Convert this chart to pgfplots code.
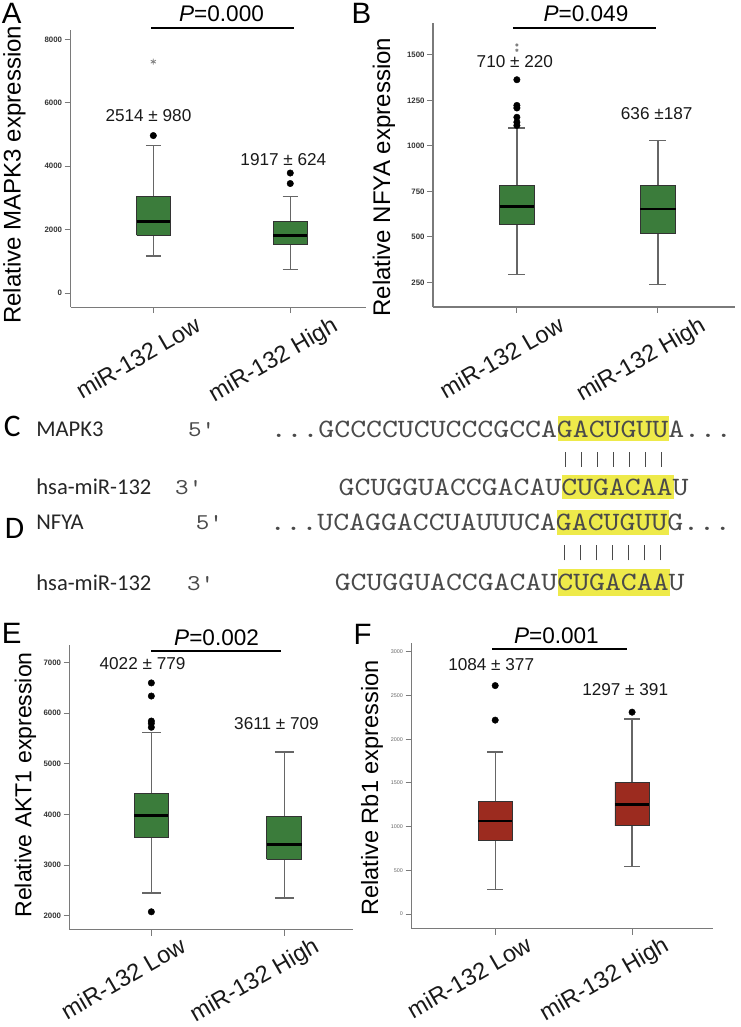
\documentclass[border=0pt]{standalone}
\usepackage{fontspec}
\setmainfont{Liberation Sans}
\setmonofont{lmmono10-regular.otf}[FakeStretch=1.143]
\newfontfamily\carlito{Carlito}
\usepackage{pgfplots}
\pgfplotsset{compat=1.18}
\definecolor{boxgreen}{HTML}{3B7C3B}
\definecolor{boxred}{HTML}{9C2B1F}
\definecolor{axgray}{HTML}{7A7A7A}
\definecolor{whgray}{HTML}{666666}
\definecolor{edgegray}{HTML}{333333}
\definecolor{seqgray}{HTML}{4A4A4A}
\definecolor{hl}{HTML}{EEEA4A}
\pgfplotsset{
  panel/.style={
    scale only axis,
    axis x line*=bottom, axis y line*=left,
    axis line style={draw=axgray, line width=1.3bp},
    tick style={draw=axgray, line width=1.1bp},
    tick align=outside,
    major tick length=6bp,
    xtick={1,2},
    xticklabels={miR-132 Low, miR-132 High},
    scaled y ticks=false,
    /pgf/number format/1000 sep={},
    /pgf/number format/assume math mode=true,
    yticklabel style={font=\fontsize{8}{8}\selectfont\bfseries, text=black!80, inner sep=2.5bp},
    clip=false,
  },
  lab/.style 2 args={xticklabel style={font=\fontsize{24}{24}\selectfont, text=black!90, inner sep=0pt, anchor=north east, xshift=#1, yshift=#2, rotate=30}},
  ylab/.style n args={3}{every axis y label/.style={at={(rel axis cs:0,#1)}, xshift=#2, rotate=90, anchor=center, font=\fontsize{#3}{#3}\selectfont}},
  whisk/.style={draw=whgray, line width=1.3bp, mark=none},
  boxg/.style={fill=boxgreen, draw=edgegray, line width=0.9bp, mark=none},
  boxr/.style={fill=boxred, draw=edgegray, line width=0.9bp, mark=none},
  med/.style={draw=black, line width=2.6bp, mark=none},
  outl/.style={only marks, mark=*, mark size=3.3bp, mark options={fill=black, draw=black}},
  star/.style={only marks, mark=asterisk, mark size=3bp, mark options={draw=gray, line width=0.8bp}},
}
\begin{document}
\begin{tikzpicture}
\begin{scope}[x=1bp, y=1bp]
\useasboundingbox (0,0) rectangle (750,1027);
\end{scope}

% ---------------- Panel A ----------------
\begin{axis}[panel, at={(70bp,715bp)}, anchor=south west, width=300bp, height=282bp,
  xmin=0.396, xmax=2.554, ymin=-444, ymax=8310, ytick={0,2000,4000,6000,8000},
  lab={41bp}{-2bp}, ylab={0.477}{-57bp}{24.5}, ylabel={Relative MAPK3 expression}]
% Low: lw 1170, q1 1822, med 2256, q3 3053, uw 4657
\addplot[whisk] coordinates {(1,1170) (1,4657)};
\addplot[whisk] coordinates {(0.945,1170) (1.055,1170)};
\addplot[whisk] coordinates {(0.945,4657) (1.055,4657)};
\addplot[boxg] coordinates {(0.8775,1822) (1.1225,1822) (1.1225,3053) (0.8775,3053) (0.8775,1822)};
\addplot[med] coordinates {(0.8775,2256) (1.1225,2256)};
% High: lw 756, q1 1532, med 1811, q3 2270, uw 3053
\addplot[whisk] coordinates {(2,756) (2,3053)};
\addplot[whisk] coordinates {(1.945,756) (2.055,756)};
\addplot[whisk] coordinates {(1.945,3053) (2.055,3053)};
\addplot[boxg] coordinates {(1.8775,1532) (2.1225,1532) (2.1225,2270) (1.8775,2270) (1.8775,1532)};
\addplot[med] coordinates {(1.8775,1811) (2.1225,1811)};
\addplot[outl] coordinates {(1,4968) (2,3788) (2,3457)};
\addplot[star] coordinates {(1,7297)};
\end{axis}

% ---------------- Panel B ----------------
\begin{axis}[panel, at={(438bp,715.3bp)}, anchor=south west, width=307bp, height=288.4bp,
  xmin=0.406, xmax=2.55, ymin=115, ymax=1675, ytick={250,500,750,1000,1250,1500},
  lab={41bp}{-2bp}, ylab={0.457}{-50bp}{24.5}, ylabel={Relative NFYA expression}]
\addplot[whisk] coordinates {(1,295) (1,1098)};
\addplot[whisk] coordinates {(0.94,295) (1.06,295)};
\addplot[whisk] coordinates {(0.94,1098) (1.06,1098)};
\addplot[boxg] coordinates {(0.8775,567) (1.1225,567) (1.1225,782) (0.8775,782) (0.8775,567)};
\addplot[med] coordinates {(0.8775,667) (1.1225,667)};
\addplot[whisk] coordinates {(2,239) (2,1029)};
\addplot[whisk] coordinates {(1.94,239) (2.06,239)};
\addplot[whisk] coordinates {(1.94,1029) (2.06,1029)};
\addplot[boxg] coordinates {(1.875,517) (2.125,517) (2.125,782) (1.875,782) (1.875,517)};
\addplot[med] coordinates {(1.875,654) (2.125,654)};
\addplot[outl] coordinates {(1,1363) (1,1222) (1,1208) (1,1157) (1,1130) (1,1112)};
\addplot[star, mark size=1.6bp] coordinates {(1,1554) (1,1525)};
\end{axis}

% ---------------- Panel E ----------------
\begin{axis}[panel, at={(69bp,83bp)}, anchor=south west, width=288bp, height=289bp,
  xmin=0.385, xmax=2.52, ymin=1722, ymax=7344, ytick={2000,3000,4000,5000,6000,7000},
  lab={28bp}{0bp}, ylab={0.509}{-45bp}{23.5}, ylabel={Relative AKT1 expression}]
\addplot[whisk] coordinates {(1,2447) (1,5612)};
\addplot[whisk] coordinates {(0.93,2447) (1.07,2447)};
\addplot[whisk] coordinates {(0.93,5612) (1.07,5612)};
\addplot[boxg] coordinates {(0.8725,3550) (1.1275,3550) (1.1275,4406) (0.8725,4406) (0.8725,3550)};
\addplot[med] coordinates {(0.8725,3984) (1.1275,3984)};
\addplot[whisk] coordinates {(2,2350) (2,5236)};
\addplot[whisk] coordinates {(1.93,2350) (2.07,2350)};
\addplot[whisk] coordinates {(1.93,5236) (2.07,5236)};
\addplot[boxg] coordinates {(1.8675,3115) (2.1325,3115) (2.1325,3958) (1.8675,3958) (1.8675,3115)};
\addplot[med] coordinates {(1.8675,3407) (2.1325,3407)};
\addplot[outl] coordinates {(1,6598) (1,6339) (1,5846) (1,5800) (1,5722) (1,2078)};
\end{axis}

% ---------------- Panel F ----------------
\begin{axis}[panel, at={(416bp,84bp)}, anchor=south west, width=306bp, height=290bp,
  xmin=0.388, xmax=2.59, ymin=-169, ymax=3098, ytick={0,500,1000,1500,2000,2500,3000},
  yticklabel style={font=\fontsize{5.5}{5.5}\selectfont\mdseries, text=black!60},
  lab={30bp}{0bp}, ylab={0.493}{-40bp}{24}, ylabel={Relative Rb1 expression}]
\addplot[whisk] coordinates {(1,285) (1,1854)};
\addplot[whisk] coordinates {(0.9425,285) (1.0575,285)};
\addplot[whisk] coordinates {(0.9425,1854) (1.0575,1854)};
\addplot[boxr] coordinates {(0.8775,837) (1.1225,837) (1.1225,1284) (0.8775,1284) (0.8775,837)};
\addplot[med] coordinates {(0.8775,1066) (1.1225,1066)};
\addplot[whisk] coordinates {(2,541) (2,2230)};
\addplot[whisk] coordinates {(1.9425,541) (2.0575,541)};
\addplot[whisk] coordinates {(1.9425,2230) (2.0575,2230)};
\addplot[boxr] coordinates {(1.875,1010) (2.125,1010) (2.125,1509) (1.875,1509) (1.875,1010)};
\addplot[med] coordinates {(1.875,1254) (2.125,1254)};
\addplot[outl] coordinates {(1,2613) (1,2218) (2,2309)};
\end{axis}

\begin{scope}[x=1bp, y=1bp]
% ---------------- panel letters, P values ----------------
\begin{scope}[every node/.style={inner sep=0pt, anchor=base west}]
\node[font=\fontsize{30}{30}\selectfont] at (0,1003) {A};
\node[font=\fontsize{30}{30}\selectfont] at (355,1003) {B};
\node[font=\fontsize{30}{30}\selectfont] at (0,374) {E};
\node[font=\fontsize{30}{30}\selectfont] at (357,373) {F};
\node[font=\fontsize{23}{23}\selectfont] at (180,1005) {\textit{P}=0.000};
\node[font=\fontsize{23}{23}\selectfont] at (550,1005) {\textit{P}=0.049};
\node[font=\fontsize{23}{23}\selectfont] at (175,372) {\textit{P}=0.002};
\node[font=\fontsize{23}{23}\selectfont] at (520,374) {\textit{P}=0.001};
\end{scope}
\draw[line width=2bp] (152,999) -- (297,999);
\draw[line width=2bp] (519,999) -- (664,999);
\draw[line width=2bp] (152,366) -- (284,366);
\draw[line width=2bp] (498,368) -- (635,368);

% ---------------- mean +- sd texts ----------------
\begin{scope}[every node/.style={inner sep=0pt, anchor=center, font=\fontsize{17.5}{17.5}\selectfont, text=black!90}]
\node at (149,910) {2514 ± 980};
\node at (286,865) {1917 ± 624};
\node at (521,964) {710 ± 220};
\node at (665,912) {636 ±187};
\node at (143,353) {4022 ± 779};
\node at (279,292) {3611 ± 709};
\node at (497,352) {1084 ± 377};
\node at (633,327) {1297 ± 391};
\end{scope}

% ---------------- Panels C and D ----------------
\fill[hl] (564.6,579) rectangle (678.0,605);
\fill[hl] (568.8,520) rectangle (682.2,545);
\fill[hl] (563.6,484) rectangle (677.0,509);
\fill[hl] (564.8,422) rectangle (678.2,449);
\foreach \i in {0,...,6} {
  \draw[seqgray, line width=1.4bp] (572.7+16.2*\i,553) -- (572.7+16.2*\i,568);
  \draw[seqgray, line width=1.4bp] (571.7+16.2*\i,458) -- (571.7+16.2*\i,474);
}
\begin{scope}[every node/.style={inner sep=0pt, anchor=base west}]
\node[font=\carlito\fontsize{32}{32}\selectfont] at (2,584) {C};
\node[font=\carlito\fontsize{32}{32}\selectfont] at (3,480) {D};
\node[font=\carlito\fontsize{23}{23}\selectfont, text=black!85] at (35,584) {MAPK3};
\node[font=\carlito\fontsize{23}{23}\selectfont, text=black!85] at (35,525) {hsa-miR-132};
\node[font=\carlito\fontsize{23}{23}\selectfont, text=black!85] at (35,489) {NFYA};
\node[font=\carlito\fontsize{23}{23}\selectfont, text=black!85] at (35,427) {hsa-miR-132};
\node[font=\ttfamily\fontsize{23}{23}\selectfont, text=seqgray] at (189,584) {5'};
\node[font=\ttfamily\fontsize{23}{23}\selectfont, text=seqgray] at (176,525) {3'};
\node[font=\ttfamily\fontsize{23}{23}\selectfont, text=seqgray] at (197,489) {5'};
\node[font=\ttfamily\fontsize{23}{23}\selectfont, text=seqgray] at (188,427) {3'};
\node[font=\ttfamily\fontsize{27}{27}\selectfont, text=seqgray] at (273,583) {...GCCCCUCUCCCGCCAGACUGUUA...};
\node[font=\ttfamily\fontsize{27}{27}\selectfont, text=seqgray] at (342,524) {GCUGGUACCGACAUCUGACAAU};
\node[font=\ttfamily\fontsize{27}{27}\selectfont, text=seqgray] at (272,488) {...UCAGGACCUAUUUCAGACUGUUG...};
\node[font=\ttfamily\fontsize{27}{27}\selectfont, text=seqgray] at (338,427) {GCUGGUACCGACAUCUGACAAU};
\end{scope}
\end{scope}
\end{tikzpicture}
\end{document}
